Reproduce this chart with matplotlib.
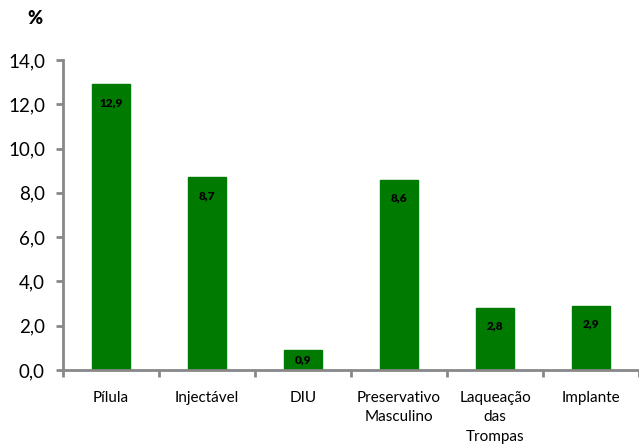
import matplotlib
matplotlib.use("Agg")
import matplotlib.pyplot as plt
from matplotlib.ticker import FixedLocator

categories = ["Pílula", "Injectável", "DIU", "Preservativo\nMasculino", "Laqueação\ndas\nTrompas", "Implante"]
values = [12.9, 8.7, 0.9, 8.6, 2.8, 2.9]
value_labels = ["12,9", "8,7", "0,9", "8,6", "2,8", "2,9"]
yticks = [0, 2, 4, 6, 8, 10, 12, 14]
ytick_labels = ["0,0", "2,0", "4,0", "6,0", "8,0", "10,0", "12,0", "14,0"]

plt.rcParams['font.family'] = ['Lato', 'DejaVu Sans']

fig = plt.figure(figsize=(6.39, 4.46), dpi=100)
ax = fig.add_axes([0.0986, 0.1704, 0.9014, 0.6951])

x = list(range(len(categories)))
ax.bar(x, values, width=0.4, color="#007A00", edgecolor="#007A00", zorder=2)

for xi, v, lab in zip(x, values, value_labels):
    ypos = max(v - 0.82, v / 2)
    ax.text(xi, ypos, lab, ha="center", va="center", fontsize=8.5, fontweight="heavy", color="black")

ax.set_xlim(-0.5, len(categories) - 0.5)
ax.set_ylim(0, 14)
ax.set_yticks(yticks)
ax.set_yticklabels(ytick_labels, fontsize=13.5)
ax.set_xticks(x)
ax.set_xticklabels(categories, fontsize=11, linespacing=1.5)
ax.xaxis.set_minor_locator(FixedLocator([i - 0.5 for i in range(len(categories) + 1)]))
ax.tick_params(axis="x", which="major", length=0, pad=15)
ax.tick_params(axis="x", which="minor", length=5, width=2, color="#888888")
ax.tick_params(axis="y", which="major", length=5, width=2, color="#888888", pad=8)

for s in ["top", "right"]:
    ax.spines[s].set_visible(False)
for s in ["left", "bottom"]:
    ax.spines[s].set_color("#888888")
    ax.spines[s].set_linewidth(2)

fig.text(35 / 639, 1 - 18 / 446, "%", fontsize=13, fontweight="heavy", ha="center", va="center")

fig.savefig("out.png", dpi=100)
